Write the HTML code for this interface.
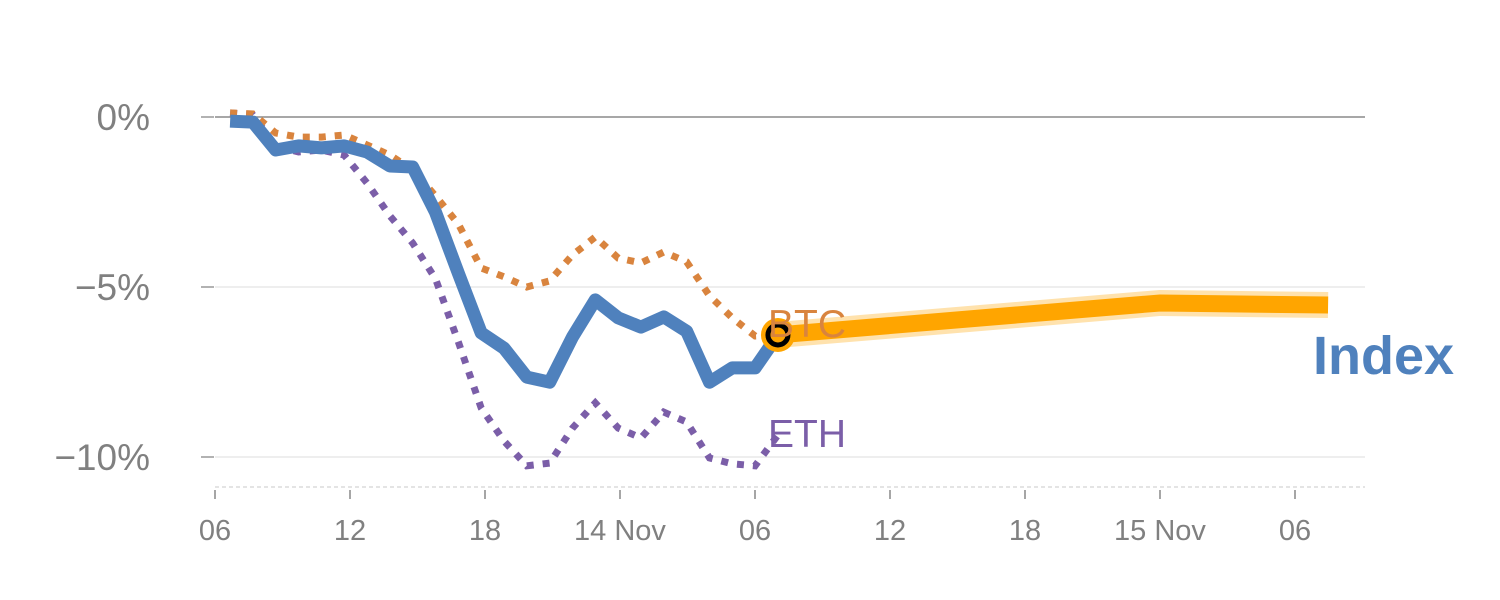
<!DOCTYPE html>
<html><head><meta charset="utf-8"><style>
body{margin:0;background:#fff}
svg{display:block;font-family:"Liberation Sans",sans-serif}
</style></head><body>
<svg id="chart" width="1500" height="600" viewBox="0 0 1500 600">
<g id="grid"></g><g id="axes"></g><g id="series"></g>
<text x="768" y="337" font-size="39" fill="#d9843e">BTC</text>
<text x="768" y="447" font-size="39" fill="#7b5ea8">ETH</text>
<text x="1313" y="374" font-size="54" font-weight="bold" fill="#4f81bd">Index</text>
</svg>
<script>
const indexVals=[-0.12,-0.15,-0.97,-0.85,-0.91,-0.85,-1.03,-1.44,-1.47,-2.8,-4.6,-6.35,-6.8,-7.65,-7.8,-6.47,-5.38,-5.91,-6.18,-5.88,-6.3,-7.8,-7.38,-7.38,-6.41];
const btcVals=[0.12,0.09,-0.47,-0.59,-0.59,-0.53,-0.82,-1.12,-1.56,-2.32,-3.15,-4.44,-4.7,-5.0,-4.82,-4.06,-3.53,-4.15,-4.29,-3.97,-4.26,-5.26,-5.91,-6.44,-6.41];
const ethVals=[0.12,0.06,-0.85,-1.03,-0.97,-1.12,-1.94,-2.91,-3.71,-4.76,-6.62,-8.56,-9.53,-10.26,-10.18,-9.15,-8.41,-9.15,-9.44,-8.68,-8.97,-10.03,-10.2,-10.26,-9.35];
const histStartHour=6.67, histEndHour=31.02;
const forecastHours=[31.02,48,55.47];
const forecastVals=[-6.41,-5.47,-5.53];
const xTickHours=[6,12,18,24,30,36,42,48,54];
const xTickLabels=["06","12","18","14 Nov","06","12","18","15 Nov","06"];
const yTicks=[0,-5,-10];
const yTickLabels=["0%","\u22125%","\u221210%"];

const NS="http://www.w3.org/2000/svg";
const X=h=>215+(h-6)*22.5;
const Y=v=>117-v*34;
function mk(tag,attrs,parent){const e=document.createElementNS(NS,tag);for(const k in attrs)e.setAttribute(k,attrs[k]);parent.appendChild(e);return e;}
const grid=document.getElementById('grid'),axes=document.getElementById('axes'),ser=document.getElementById('series');
yTicks.forEach((v,i)=>{
  const g=mk('line',{x1:215,x2:1365,y1:Y(v),y2:Y(v),stroke:v===0?'#8a8a8a':'#e3e3e3','stroke-width':v===0?1.5:1.2},grid);
  
  
  const t=mk('line',{x1:201,x2:214,y1:Y(v),y2:Y(v),stroke:'#888','stroke-width':1.3},axes);
  
  
  const l=mk('text',{x:150,y:Y(v)+13,'text-anchor':'end','font-size':37,fill:'#808080'},axes);
  l.textContent=yTickLabels[i];
  
  
});
const base=mk('line',{x1:215,x2:1365,y1:487,y2:487,stroke:'#dcdcdc','stroke-width':1.5,'stroke-dasharray':'4 3'},axes);


xTickHours.forEach((h,i)=>{
  const t=mk('line',{x1:X(h),x2:X(h),y1:490,y2:499,stroke:'#888','stroke-width':1.5},axes);
  
  
  const l=mk('text',{x:X(h),y:540,'text-anchor':'middle','font-size':29,fill:'#808080'},axes);
  l.textContent=xTickLabels[i];
  
  
});
function histPts(vals){const step=(histEndHour-histStartHour)/(vals.length-1);return vals.map((v,i)=>X(histStartHour+i*step).toFixed(1)+','+Y(v).toFixed(1)).join(' ');}
const eth=mk('polyline',{points:histPts(ethVals),fill:'none',stroke:'#7b5ea8','stroke-width':7,'stroke-dasharray':'7 9'},ser);


const btc=mk('polyline',{points:histPts(btcVals),fill:'none',stroke:'#d9843e','stroke-width':7,'stroke-dasharray':'7 9'},ser);


const idx=mk('polyline',{points:histPts(indexVals),fill:'none',stroke:'#4f81bd','stroke-width':13,'stroke-linejoin':'round'},ser);


const fp=forecastHours.map((h,i)=>X(h)+','+Y(forecastVals[i])).join(' ');
const halo=mk('polyline',{points:fp,fill:'none',stroke:'#ffe2ad','stroke-width':26},ser);


const fl=mk('polyline',{points:fp,fill:'none',stroke:'#ffa500','stroke-width':17},ser);


const c=mk('circle',{cx:X(forecastHours[0]),cy:Y(forecastVals[0]),r:17,fill:'#ffa500'},ser);


const c2=mk('circle',{cx:X(forecastHours[0]),cy:Y(forecastVals[0]),r:10,fill:'none',stroke:'#000','stroke-width':5},ser);


</script>
</body></html>
